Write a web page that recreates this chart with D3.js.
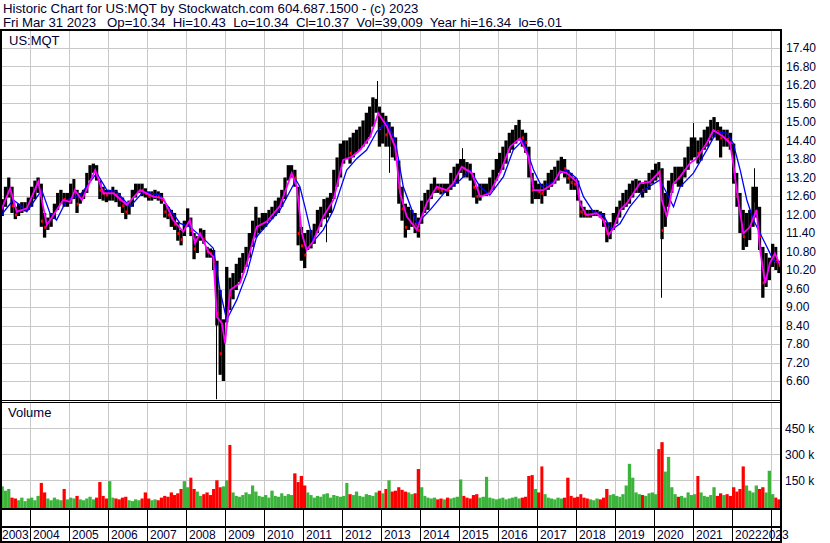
<!DOCTYPE html>
<html>
<head>
<meta charset="utf-8">
<title>US:MQT historic chart</title>
<script src="https://cdn.jsdelivr.net/npm/d3@7"></script>
<style>
  body { margin: 0; background: #fff; }
  svg { display: block; font-family: Arial, "Liberation Sans", sans-serif; }
</style>
</head>
<body>
<svg id="chart" width="830" height="543"></svg>
<script>
// ---- data ----
const years = [2003, 2004, 2005, 2006, 2007, 2008, 2009, 2010, 2011, 2012, 2013,
               2014, 2015, 2016, 2017, 2018, 2019, 2020, 2021, 2022, 2023];
const priceTicks = [17.40, 16.80, 16.20, 15.60, 15.00, 14.40, 13.80, 13.20, 12.60, 12.00,
                    11.40, 10.80, 10.20, 9.60, 9.00, 8.40, 7.80, 7.20, 6.60];
const volumeTicks = [150, 300, 450]; // thousands
const firstMonth = '2003-03';
const lastMonth = '2023-03';

// monthly high / low / close (dense part of the daily bars)
const high = [
  12.25, 12.5, 12.9, 13.2, 12.9, 12.25, 12.35, 12.4, 12.4, 12.55,            // 2003 (Mar-Dec)
  12.9, 13.1, 13.2, 13.0, 12.05, 11.9, 12.05, 12.35, 12.7, 12.8, 12.7, 12.7,  // 2004
  13.0, 13.15, 12.8, 12.7, 12.8, 13.35, 13.6, 13.65, 13.6, 13.1, 12.9, 12.8,  // 2005
  12.8, 12.9, 12.8, 12.7, 12.55, 12.35, 12.45, 12.8, 13.0, 13.0, 13.0, 12.85, // 2006
  12.75, 12.75, 12.8, 12.75, 12.7, 12.35, 12.25, 12.15, 12.05, 11.75, 11.5, 11.8, // 2007
  12.2, 11.9, 11.4, 11.3, 11.55, 11.5, 10.95, 10.9, 10.85, 10.5, 9.55, 8.6,   // 2008
  10.3, 9.95, 10.1, 10.4, 10.6, 10.75, 10.95, 11.4, 11.8, 12.25, 11.9, 12.05, // 2009
  12.05, 12.15, 12.25, 12.45, 12.55, 12.8, 13.2, 13.6, 13.6, 13.45, 12.9, 11.6, // 2010
  11.4, 11.5, 11.5, 11.7, 12.15, 12.25, 12.5, 12.55, 12.7, 13.45, 13.85, 14.3, // 2011
  14.4, 14.4, 14.5, 14.65, 14.75, 14.85, 15.05, 15.3, 15.5, 15.8, 15.75, 15.5, // 2012
  15.3, 15.2, 15.0, 14.85, 14.5, 13.75, 12.9, 12.35, 12.25, 12.15, 12.05, 11.9, // 2013
  12.45, 12.7, 12.8, 13.0, 13.2, 13.0, 13.0, 13.0, 13.0, 13.35, 13.55, 13.65, // 2014
  13.8, 13.8, 13.7, 13.65, 13.35, 12.9, 13.0, 13.0, 13.0, 13.2, 13.45, 13.8,   // 2015
  14.0, 14.2, 14.4, 14.65, 14.75, 14.9, 15.07, 14.75, 14.65, 14.2, 13.35, 13.1, // 2016
  13.0, 13.0, 13.1, 13.35, 13.45, 13.55, 13.75, 13.87, 13.8, 13.45, 13.35, 13.2, // 2017
  13.1, 12.45, 12.25, 12.15, 12.15, 12.15, 12.15, 12.1, 12.05, 11.75, 11.75, 12.05, // 2018
  12.25, 12.45, 12.7, 12.8, 13.0, 13.1, 13.15, 13.1, 13.0, 13.1, 13.35, 13.45, // 2019
  13.65, 13.7, 13.5, 12.7, 13.1, 13.35, 13.55, 13.55, 13.55, 13.85, 14.2, 14.5, // 2020
  14.5, 14.4, 14.5, 14.75, 14.85, 15.07, 15.16, 15.0, 14.85, 14.75, 14.75, 14.65, // 2021
  14.3, 13.35, 12.7, 12.15, 12.05, 12.15, 12.9, 12.9, 12.25, 10.95, 10.75, 10.6, // 2022
  11.05, 10.95, 10.5                                                          // 2023
];
const low = [
  11.92, 11.95, 12.25, 12.55, 12.05, 11.85, 11.95, 12.05, 12.1, 12.15,
  12.25, 12.5, 12.7, 11.6, 11.25, 11.5, 11.6, 11.85, 12.15, 12.35, 12.25, 12.25,
  12.35, 12.5, 12.05, 12.35, 12.5, 12.7, 13.1, 13.35, 13.1, 12.5, 12.45, 12.4,
  12.45, 12.45, 12.4, 12.25, 12.05, 11.85, 12.0, 12.25, 12.55, 12.7, 12.6, 12.55,
  12.45, 12.45, 12.5, 12.45, 12.35, 11.9, 11.85, 11.6, 11.5, 11.15, 11.0, 11.3,
  11.6, 11.3, 10.55, 10.75, 11.15, 11.05, 10.6, 10.6, 10.2, 8.4, 6.8, 6.6,
  8.5, 8.9, 9.25, 9.55, 9.8, 10.1, 10.3, 10.6, 10.95, 11.25, 11.4, 11.5,
  11.6, 11.75, 11.85, 11.95, 12.05, 12.25, 12.5, 13.1, 13.2, 12.9, 11.0, 10.5,
  10.26, 10.85, 10.9, 11.05, 11.4, 11.6, 11.85, 11.9, 12.05, 12.5, 12.9, 13.2,
  13.65, 13.8, 13.65, 13.85, 14.0, 14.1, 14.2, 14.3, 14.5, 14.85, 15.3, 14.2,
  14.3, 14.2, 14.2, 13.85, 13.75, 12.35, 11.8, 11.25, 11.5, 11.6, 11.4, 11.25,
  11.7, 12.05, 12.15, 12.5, 12.7, 12.7, 12.65, 12.7, 12.6, 12.8, 12.9, 13.0,
  13.35, 13.2, 13.2, 13.1, 12.55, 12.35, 12.45, 12.6, 12.6, 12.7, 12.8, 13.1,
  13.35, 13.45, 13.65, 14.0, 14.1, 14.3, 14.4, 14.2, 14.0, 13.2, 12.35, 12.5,
  12.5, 12.35, 12.6, 12.8, 12.9, 13.0, 13.1, 13.35, 13.2, 13.0, 12.8, 12.8,
  12.45, 11.9, 11.9, 11.9, 11.9, 11.95, 11.95, 11.9, 11.6, 11.1, 11.2, 11.5,
  11.7, 11.9, 12.15, 12.25, 12.35, 12.55, 12.7, 12.7, 12.55, 12.7, 12.8, 13.0,
  13.1, 13.2, 11.2, 11.6, 12.25, 12.7, 13.0, 12.9, 12.9, 13.2, 13.45, 13.75,
  13.85, 13.65, 13.75, 14.1, 14.2, 14.4, 14.5, 14.4, 13.85, 14.2, 14.2, 14.1,
  13.0, 12.25, 11.4, 10.85, 10.95, 11.17, 11.6, 11.9, 10.85, 9.3, 9.65, 9.87,
  10.3, 10.2, 10.1
];
const close = [
  12.1, 12.3, 12.6, 12.9, 12.3, 12.0, 12.15, 12.3, 12.3, 12.45,
  12.7, 12.9, 12.9, 11.8, 11.6, 11.75, 11.85, 12.2, 12.55, 12.6, 12.5, 12.5,
  12.8, 12.8, 12.35, 12.55, 12.65, 13.1, 13.4, 13.5, 13.3, 12.8, 12.7, 12.65,
  12.7, 12.7, 12.65, 12.5, 12.3, 12.1, 12.3, 12.6, 12.8, 12.85, 12.8, 12.7,
  12.6, 12.6, 12.65, 12.6, 12.5, 12.1, 12.0, 11.9, 11.7, 11.4, 11.2, 11.6,
  11.9, 11.5, 10.9, 11.0, 11.35, 11.2, 10.8, 10.75, 10.5, 8.8, 7.5, 7.6,
  9.6, 9.4, 9.6, 9.9, 10.1, 10.4, 10.6, 11.0, 11.4, 11.7, 11.7, 11.8,
  11.85, 12.0, 12.05, 12.25, 12.3, 12.55, 12.9, 13.4, 13.4, 13.2, 11.4, 11.0,
  10.7, 11.1, 11.2, 11.3, 11.7, 11.9, 12.1, 12.2, 12.4, 12.9, 13.4, 13.7,
  14.0, 14.1, 14.0, 14.3, 14.4, 14.5, 14.7, 14.85, 15.0, 15.3, 15.6, 14.8,
  14.9, 14.6, 14.6, 14.4, 14.0, 12.9, 12.2, 11.6, 11.8, 11.85, 11.7, 11.5,
  12.0, 12.4, 12.45, 12.75, 13.0, 12.85, 12.8, 12.85, 12.8, 13.1, 13.25, 13.35,
  13.65, 13.5, 13.45, 13.4, 12.9, 12.6, 12.7, 12.8, 12.8, 12.95, 13.1, 13.45,
  13.7, 13.85, 14.0, 14.3, 14.4, 14.6, 14.75, 14.5, 14.35, 13.7, 12.8, 12.8,
  12.75, 12.7, 12.85, 13.1, 13.2, 13.3, 13.45, 13.6, 13.5, 13.2, 13.05, 13.0,
  12.7, 12.1, 12.05, 12.0, 12.05, 12.05, 12.05, 12.0, 11.8, 11.4, 11.5, 11.8,
  12.0, 12.2, 12.45, 12.5, 12.7, 12.85, 12.9, 12.9, 12.8, 12.9, 13.1, 13.25,
  13.4, 13.35, 11.5, 12.0, 12.7, 13.0, 13.3, 13.2, 13.25, 13.5, 13.85, 14.1,
  14.2, 14.0, 14.2, 14.4, 14.55, 14.75, 14.85, 14.7, 14.5, 14.5, 14.45, 14.35,
  13.4, 12.6, 12.0, 11.3, 11.4, 11.6, 12.2, 12.4, 11.3, 9.8, 10.1, 10.2,
  10.6, 10.5, 10.37
];
// single-day spikes that stand out as thin lines
const spikeDates = [2008.78, 2011.59, 2012.90, 2013.21, 2015.08, 2020.18, 2021.00, 2022.56];
const spikeHigh  = [10.2, 12.0, 16.33, 14.3, 14.15, 11.6, 14.97, 13.5];
const spikeLow   = [6.01, 11.1, 15.5, 13.35, 13.5, 9.3, 14.3, 12.4];

// monthly volume, thousands of shares
const volume = [
  80, 115, 90, 100, 50, 45, 35, 50, 30, 45,
  50, 35, 60, 135, 80, 45, 35, 50, 40, 35, 100, 40,
  50, 45, 60, 40, 35, 45, 55, 40, 50, 140, 60, 45,
  145, 50, 45, 40, 50, 55, 35, 30, 40, 35, 45, 80,
  45, 35, 40, 35, 50, 60, 55, 80, 65, 75, 100, 145,
  110, 165, 100, 85, 60, 70, 80, 65, 100, 150, 110, 115,
  150, 354, 80, 60, 55, 65, 80, 70, 120, 85, 60, 55,
  65, 50, 90, 60, 55, 75, 60, 70, 65, 190, 140, 175,
  120, 80, 65, 50, 60, 55, 70, 75, 50, 65, 60, 55,
  60, 135, 70, 65, 85, 60, 55, 70, 65, 60, 80, 90,
  75, 100, 150, 85, 90, 110, 95, 85, 80, 70, 75, 215,
  110, 60, 50, 45, 50, 40, 45, 40, 50, 45, 50, 55,
  155, 60, 50, 45, 65, 70, 50, 55, 170, 50, 45, 40,
  45, 50, 40, 45, 50, 55, 45, 50, 55, 175, 180, 100,
  80, 230, 70, 50, 45, 40, 50, 45, 50, 165, 60, 50,
  55, 70, 50, 45, 40, 35, 45, 40, 50, 100, 65, 70,
  60, 55, 70, 120, 245, 165, 80, 70, 65, 60, 75, 80,
  70, 330, 370, 200, 285, 110, 70, 55, 60, 50, 80, 65,
  70, 175, 80, 60, 55, 65, 110, 60, 75, 65, 70, 60,
  110, 85, 100, 230, 120, 90, 80, 120, 100, 110, 80, 205,
  70, 50, 40
];

// short moving average (magenta), read as decimal year / price
const fastDates = [2003.23, 2003.49, 2003.66, 2003.92, 2004.21, 2004.43, 2004.60, 2004.85,
  2005.03, 2005.15, 2005.33, 2005.67, 2005.88, 2006.14, 2006.48, 2006.82, 2007.16, 2007.42,
  2007.67, 2007.93, 2008.10, 2008.23, 2008.36, 2008.57, 2008.70, 2008.79, 2008.92, 2009.00,
  2009.13, 2009.38, 2009.56, 2009.81, 2010.07, 2010.41, 2010.71, 2010.84, 2010.97, 2011.09,
  2011.26, 2011.52, 2011.78, 2012.03, 2012.25, 2012.46, 2012.72, 2012.93, 2013.15, 2013.36,
  2013.49, 2013.66, 2013.92, 2014.17, 2014.43, 2014.68, 2014.85, 2015.07, 2015.33, 2015.54,
  2015.79, 2016.05, 2016.31, 2016.56, 2016.78, 2016.91, 2017.16, 2017.42, 2017.59, 2017.76,
  2018.02, 2018.10, 2018.27, 2018.53, 2018.70, 2018.83, 2018.96, 2019.13, 2019.30, 2019.64,
  2019.90, 2020.14, 2020.20, 2020.33, 2020.50, 2020.67, 2020.92, 2021.09, 2021.35, 2021.52,
  2021.78, 2021.95, 2022.03, 2022.12, 2022.29, 2022.46, 2022.63, 2022.72, 2022.85, 2022.97,
  2023.10, 2023.25];
const fastVals = [12.04, 12.85, 12.09, 12.20, 13.06, 11.66, 11.98, 12.47,
  12.41, 12.79, 12.47, 13.44, 12.69, 12.69, 12.31, 12.79, 12.58, 12.52,
  11.82, 11.44, 11.82, 11.07, 11.39, 10.79, 10.63, 8.68, 8.47, 7.82,
  9.55, 9.77, 10.42, 11.60, 11.77, 12.28, 13.34, 12.90, 11.39, 10.85,
  11.12, 11.93, 12.47, 13.77, 13.87, 14.09, 14.52, 15.28, 14.85, 14.20,
  12.69, 11.93, 11.50, 12.36, 12.90, 12.79, 13.01, 13.55, 13.34, 12.58,
  12.69, 13.34, 14.20, 14.47, 13.87, 12.79, 12.79, 13.01, 13.40, 13.34,
  13.06, 12.36, 11.98, 12.04, 11.82, 11.33, 11.55, 12.15, 12.36, 13.01,
  13.06, 13.39, 12.47, 11.93, 13.01, 13.23, 13.66, 13.82, 14.31, 14.74,
  14.52, 14.31, 13.66, 12.79, 11.39, 11.60, 12.15, 10.85, 9.77, 10.42,
  10.74, 10.31];

// long moving average (blue)
const slowDates = [2003.23, 2003.57, 2003.74, 2003.92, 2004.30, 2004.51, 2004.68, 2004.94,
  2005.28, 2005.71, 2005.97, 2006.22, 2006.56, 2006.91, 2007.33, 2007.85, 2008.10, 2008.53,
  2008.70, 2008.87, 2009.04, 2009.30, 2009.56, 2009.81, 2010.07, 2010.41, 2010.82, 2010.92,
  2011.05, 2011.26, 2011.52, 2011.78, 2012.12, 2012.38, 2012.63, 2012.89, 2013.15, 2013.36,
  2013.57, 2013.92, 2014.26, 2014.68, 2015.03, 2015.28, 2015.54, 2015.79, 2016.14, 2016.39,
  2016.65, 2016.91, 2017.12, 2017.42, 2017.59, 2017.76, 2018.02, 2018.19, 2018.44, 2018.70,
  2018.91, 2019.13, 2019.38, 2019.73, 2020.15, 2020.33, 2020.50, 2020.67, 2021.01, 2021.35,
  2021.61, 2021.87, 2022.03, 2022.21, 2022.38, 2022.55, 2022.72, 2022.89, 2023.06, 2023.23];
const slowVals = [11.93, 12.47, 12.31, 12.09, 12.79, 12.04, 11.82, 12.47,
  12.63, 13.34, 12.79, 12.74, 12.25, 12.74, 12.63, 11.71, 11.60, 11.12,
  10.90, 9.55, 8.58, 9.23, 10.09, 11.28, 11.66, 12.15, 13.12, 12.90,
  12.25, 11.12, 11.50, 12.15, 13.44, 13.82, 14.09, 14.69, 15.01, 14.42,
  12.90, 11.71, 12.15, 12.79, 13.12, 13.44, 12.90, 12.63, 13.23, 14.09,
  14.42, 13.44, 12.90, 13.06, 13.34, 13.44, 13.17, 12.58, 12.09, 11.98,
  11.50, 11.71, 12.25, 12.79, 13.12, 12.69, 12.25, 12.90, 13.34, 14.09,
  14.69, 14.63, 14.31, 13.44, 12.47, 11.82, 11.39, 10.96, 10.52, 10.42];

// ---- layout ----
const W = 830, H = 543;
const plotLeft = 2, plotRight = 780;
const priceTop = 30, priceBottom = 400;
const volTop = 403, volBottom = 509;
const axisMid = 527, axisBottom = 542;
const gridColor = '#c8c8c8';
const textColor = '#000033';

function yearDate(v) {
  let yr = Math.floor(v);
  let s = new Date(yr, 0, 1), e = new Date(yr + 1, 0, 1);
  return new Date(+s + (v - yr) * (e - s));
}

let parseMonth = d3.timeParse('%Y-%m');
let months = d3.timeMonth.range(parseMonth(firstMonth), d3.timeMonth.offset(parseMonth(lastMonth), 1));
let bars = months.map((m, i) => ({
  start: m, end: d3.timeMonth.offset(m, 1),
  hi: high[i], lo: low[i], cl: close[i], vol: volume[i],
  down: i > 0 && close[i] < close[i - 1]
}));

let x = d3.scaleTime()
  .domain([new Date(2004, 0, 1), new Date(2023, 0, 1)])
  .range([30, 771]);
let y = d3.scaleLinear().domain([6.6, 17.4]).range([381, 48]);
let yv = d3.scaleLinear().domain([0, 150]).range([506.3, 480.3]);

let svg = d3.select('#chart');
svg.append('rect').attr('width', W).attr('height', H).attr('fill', '#fff');

let defs = svg.append('defs');
defs.append('clipPath').attr('id', 'priceClip').append('rect')
  .attr('x', plotLeft).attr('y', priceTop + 1)
  .attr('width', plotRight - plotLeft).attr('height', priceBottom - priceTop - 1);
defs.append('clipPath').attr('id', 'volClip').append('rect')
  .attr('x', plotLeft).attr('y', volTop + 1)
  .attr('width', plotRight - plotLeft).attr('height', volBottom - volTop - 1);

// gridlines
let grid = svg.append('g').attr('stroke', gridColor).attr('stroke-width', 1).attr('shape-rendering', 'crispEdges');
grid.selectAll('.hgrid').data(priceTicks).enter().append('line')
  .attr('x1', plotLeft).attr('x2', plotRight)
  .attr('y1', d => Math.round(y(d)) + 0.5).attr('y2', d => Math.round(y(d)) + 0.5);
grid.selectAll('.vgrid').data(volumeTicks).enter().append('line')
  .attr('x1', plotLeft).attr('x2', plotRight)
  .attr('y1', d => Math.round(yv(d)) + 0.5).attr('y2', d => Math.round(yv(d)) + 0.5);
let yearLines = years.slice(1);
grid.selectAll('.ygrid').data(yearLines).enter().append('line')
  .attr('x1', d => Math.round(x(new Date(d, 0, 1))) + 0.5)
  .attr('x2', d => Math.round(x(new Date(d, 0, 1))) + 0.5)
  .attr('y1', priceTop).attr('y2', priceBottom);
grid.selectAll('.ygrid2').data(yearLines).enter().append('line')
  .attr('x1', d => Math.round(x(new Date(d, 0, 1))) + 0.5)
  .attr('x2', d => Math.round(x(new Date(d, 0, 1))) + 0.5)
  .attr('y1', volTop).attr('y2', volBottom);

// price bars
let price = svg.append('g').attr('clip-path', 'url(#priceClip)');
price.selectAll('.bar').data(bars).enter().append('rect')
  .attr('x', d => x(d.start))
  .attr('width', d => x(d.end) - x(d.start))
  .attr('y', d => y(d.hi))
  .attr('height', d => Math.max(1, y(d.lo) - y(d.hi)))
  .attr('fill', '#000');
price.selectAll('.spike').data(spikeDates).enter().append('rect')
  .attr('x', d => Math.round(x(yearDate(d))))
  .attr('width', 1)
  .attr('y', (d, i) => y(spikeHigh[i]))
  .attr('height', (d, i) => y(spikeLow[i]) - y(spikeHigh[i]))
  .attr('fill', '#000');
price.selectAll('.tick-red').data(bars.filter(d => d.down)).enter().append('rect')
  .attr('x', d => x(d.end) - 2)
  .attr('width', 2)
  .attr('y', d => y(d.cl) - 1)
  .attr('height', 3)
  .attr('fill', '#ff0000');

let line = d3.line().x(d => x(d[0])).y(d => y(d[1]));
price.append('path')
  .datum(slowDates.map((d, i) => [yearDate(d), slowVals[i]]))
  .attr('d', line).attr('fill', 'none').attr('stroke', '#0000ff').attr('stroke-width', 1.3);
price.append('path')
  .datum(fastDates.map((d, i) => [yearDate(d), fastVals[i]]))
  .attr('d', line).attr('fill', 'none').attr('stroke', '#ff00ff').attr('stroke-width', 1.8);

// volume bars
let vol = svg.append('g').attr('clip-path', 'url(#volClip)');
vol.selectAll('.vbar').data(bars).enter().append('rect')
  .attr('x', d => x(d.start))
  .attr('width', d => x(d.end) - x(d.start))
  .attr('y', d => yv(d.vol))
  .attr('height', d => volBottom - yv(d.vol))
  .attr('fill', d => d.down ? '#ff0000' : '#3cb43c');

// frame
let frame = svg.append('g').attr('fill', '#000').attr('shape-rendering', 'crispEdges');
frame.append('rect').attr('x', 0).attr('y', 29).attr('width', plotRight + 2).attr('height', 2);
frame.append('rect').attr('x', 0).attr('y', 29).attr('width', 2).attr('height', H - 29);
frame.append('rect').attr('x', plotRight).attr('y', 29).attr('width', 2).attr('height', H - 29);
frame.append('rect').attr('x', 0).attr('y', priceBottom).attr('width', plotRight + 2).attr('height', 1);
frame.append('rect').attr('x', 0).attr('y', volTop - 1).attr('width', plotRight + 2).attr('height', 1);
frame.append('rect').attr('x', 0).attr('y', volBottom - 1).attr('width', plotRight + 2).attr('height', 2);
frame.append('rect').attr('x', 0).attr('y', axisMid - 1).attr('width', plotRight + 2).attr('height', 2);
frame.append('rect').attr('x', 0).attr('y', axisBottom - 1).attr('width', plotRight + 2).attr('height', 2);
frame.selectAll('.sep').data(yearLines).enter().append('rect')
  .attr('x', d => Math.round(x(new Date(d, 0, 1))))
  .attr('y', volBottom).attr('width', 1).attr('height', axisBottom - volBottom);

// year labels
svg.append('g').selectAll('text').data(years).enter().append('text')
  .attr('x', d => {
    let px = x(new Date(d, 0, 1)) + 3;
    return Math.min(Math.max(px, 2), 762);
  })
  .attr('y', 539)
  .attr('font-size', 12)
  .attr('fill', textColor)
  .text(d => d);

// right-hand axes
let priceAxis = d3.axisRight(y).tickValues(priceTicks).tickFormat(d3.format('.2f')).tickSize(0).tickPadding(0);
svg.append('g').attr('transform', 'translate(786,0)').call(priceAxis)
  .call(g => g.select('.domain').remove())
  .call(g => g.selectAll('text').attr('font-size', 12).attr('font-family', null).attr('fill', textColor));
let volAxis = d3.axisRight(yv).tickValues(volumeTicks).tickFormat(d => d + ' k').tickSize(0).tickPadding(0);
svg.append('g').attr('transform', 'translate(785,0)').call(volAxis)
  .call(g => g.select('.domain').remove())
  .call(g => g.selectAll('text').attr('font-size', 12).attr('font-family', null).attr('fill', textColor));

// titles
svg.append('text').attr('x', 3).attr('y', 13).attr('font-size', 13.2).attr('fill', textColor)
  .text('Historic Chart for US:MQT by Stockwatch.com 604.687.1500 - (c) 2023');
svg.append('text').attr('x', 3).attr('y', 27).attr('font-size', 13.2).attr('fill', textColor)
  .style('white-space', 'pre')
  .text('Fri Mar 31 2023   Op=10.34  Hi=10.43  Lo=10.34  Cl=10.37  Vol=39,009  Year hi=16.34  lo=6.01');
svg.append('text').attr('x', 9).attr('y', 45).attr('font-size', 13).attr('fill', textColor).text('US:MQT');
svg.append('text').attr('x', 8).attr('y', 417).attr('font-size', 13).attr('fill', textColor).text('Volume');
</script>
</body>
</html>
